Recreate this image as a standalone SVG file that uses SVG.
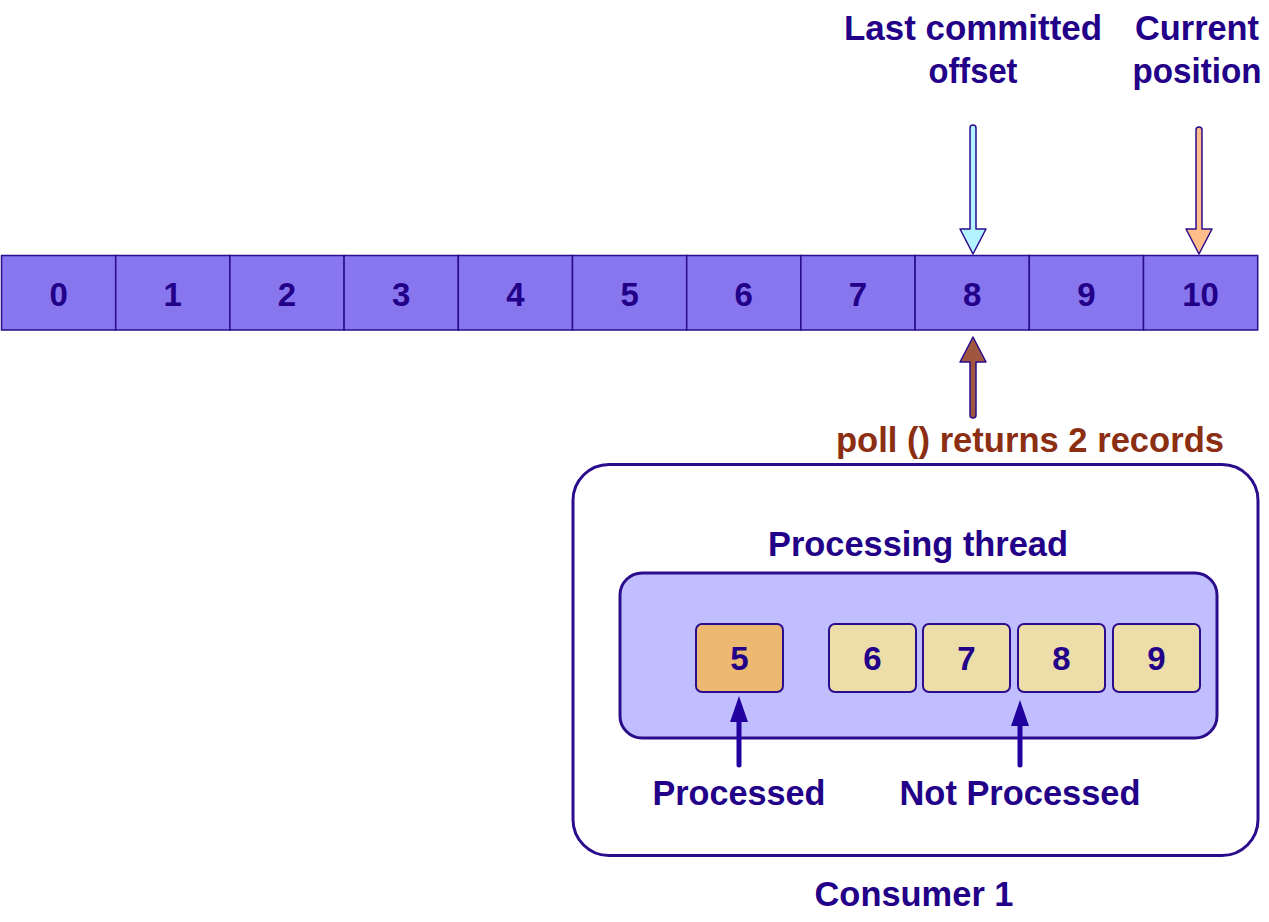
<svg xmlns="http://www.w3.org/2000/svg" width="1269" height="922" viewBox="0 0 1269 922">
<style>
text{font-family:"Liberation Sans",Arial,sans-serif;font-weight:bold;text-anchor:middle;fill:#220088}
.cell{fill:#8776EE;stroke:#2A0C8C;stroke-width:1.5}
.num{font-size:33px}
.lbl{font-size:35px}
.poll{fill:#8B2E12}
.box{stroke:#2A0C8C;stroke-width:2}
.parrow{stroke:#2200A0;stroke-width:5;stroke-linecap:round;fill:none}
.tarrow{stroke:#2A0C8C;stroke-width:1.5;stroke-linejoin:round}
</style>
<defs>
<marker id="ah" viewBox="0 0 26 18" refX="1" refY="9" markerWidth="26" markerHeight="18" markerUnits="userSpaceOnUse" orient="auto">
<path d="M0,0 L26,9 L0,18 Z" fill="#2200A0"/>
</marker>
</defs>
<rect width="1269" height="922" fill="#ffffff"/>

<g id="log">
<g id="cell-0"><rect class="cell" x="1.5" y="255.5" width="114.2" height="74.5"/><text class="num" x="58.6" y="306">0</text></g>
<g id="cell-1"><rect class="cell" x="115.7" y="255.5" width="114.2" height="74.5"/><text class="num" x="172.8" y="306">1</text></g>
<g id="cell-2"><rect class="cell" x="229.9" y="255.5" width="114.2" height="74.5"/><text class="num" x="287" y="306">2</text></g>
<g id="cell-3"><rect class="cell" x="344.1" y="255.5" width="114.2" height="74.5"/><text class="num" x="401.2" y="306">3</text></g>
<g id="cell-4"><rect class="cell" x="458.3" y="255.5" width="114.2" height="74.5"/><text class="num" x="515.4" y="306">4</text></g>
<g id="cell-5"><rect class="cell" x="572.5" y="255.5" width="114.2" height="74.5"/><text class="num" x="629.6" y="306">5</text></g>
<g id="cell-6"><rect class="cell" x="686.7" y="255.5" width="114.2" height="74.5"/><text class="num" x="743.8" y="306">6</text></g>
<g id="cell-7"><rect class="cell" x="800.9" y="255.5" width="114.2" height="74.5"/><text class="num" x="858" y="306">7</text></g>
<g id="cell-8"><rect class="cell" x="915.1" y="255.5" width="114.2" height="74.5"/><text class="num" x="972.2" y="306">8</text></g>
<g id="cell-9"><rect class="cell" x="1029.3" y="255.5" width="114.2" height="74.5"/><text class="num" x="1086.4" y="306">9</text></g>
<g id="cell-10"><rect class="cell" x="1143.5" y="255.5" width="114.2" height="74.5"/><text class="num" x="1200.6" y="306">10</text></g>
</g>

<g id="label-committed">
<text class="lbl" x="973" y="40" textLength="258" lengthAdjust="spacingAndGlyphs">Last committed</text>
<text class="lbl" x="973" y="83" textLength="89" lengthAdjust="spacingAndGlyphs">offset</text>
</g>
<g id="label-current">
<text class="lbl" x="1197" y="40" textLength="124" lengthAdjust="spacingAndGlyphs">Current</text>
<text class="lbl" x="1197" y="83" textLength="129" lengthAdjust="spacingAndGlyphs">position</text>
</g>
<g id="label-poll">
<text class="lbl poll" x="1030" y="452" textLength="388" lengthAdjust="spacingAndGlyphs">poll () returns 2 records</text>
</g>

<g id="consumer">
<rect x="573" y="464.5" width="685" height="391" rx="36" fill="#ffffff" stroke="#2A0C8C" stroke-width="3"/>
<text class="lbl" x="914" y="906" textLength="199" lengthAdjust="spacingAndGlyphs">Consumer 1</text>
</g>

<g id="processing-thread">
<text class="lbl" x="918" y="556" textLength="300" lengthAdjust="spacingAndGlyphs">Processing thread</text>
<rect x="620" y="573" width="597" height="165" rx="22" fill="#C0BEFF" stroke="#2A0C8C" stroke-width="3"/>
</g>

<g id="rec-5"><rect class="box" x="696" y="624" width="87" height="68" rx="6" fill="#EDB872"/><text class="num" x="739.5" y="670">5</text></g>
<g id="rec-6"><rect class="box" x="829" y="624" width="87" height="68" rx="6" fill="#EDDDA8"/><text class="num" x="872.5" y="670">6</text></g>
<g id="rec-7"><rect class="box" x="923" y="624" width="87" height="68" rx="6" fill="#EDDDA8"/><text class="num" x="966.5" y="670">7</text></g>
<g id="rec-8"><rect class="box" x="1018" y="624" width="87" height="68" rx="6" fill="#EDDDA8"/><text class="num" x="1061.5" y="670">8</text></g>
<g id="rec-9"><rect class="box" x="1113" y="624" width="87" height="68" rx="6" fill="#EDDDA8"/><text class="num" x="1156.5" y="670">9</text></g>

<g id="label-processed"><text class="lbl" x="739" y="805" textLength="173" lengthAdjust="spacingAndGlyphs">Processed</text></g>
<g id="label-not-processed"><text class="lbl" x="1020" y="805" textLength="241" lengthAdjust="spacingAndGlyphs">Not Processed</text></g>

<g id="connectors">
<path class="tarrow" fill="#B3F3FF" d="M970,229 L970,128 Q970,125 973,125 Q976,125 976,128 L976,229 L986,229 L973,254 L960,229 Z"/>
<path class="tarrow" fill="#FFBD8A" d="M1196,229 L1196,130 Q1196,127 1199,127 Q1202,127 1202,130 L1202,229 L1212,229 L1199,254 L1186,229 Z"/>
<path class="tarrow" fill="#A0573F" d="M970,362 L970,415 Q970,418 973,418 Q976,418 976,415 L976,362 L986,362 L973,337 L960,362 Z"/>
<line class="parrow" x1="739" y1="765" x2="739" y2="721" marker-end="url(#ah)"/>
<line class="parrow" x1="1020" y1="765" x2="1020" y2="725" marker-end="url(#ah)"/>
</g>
</svg>
